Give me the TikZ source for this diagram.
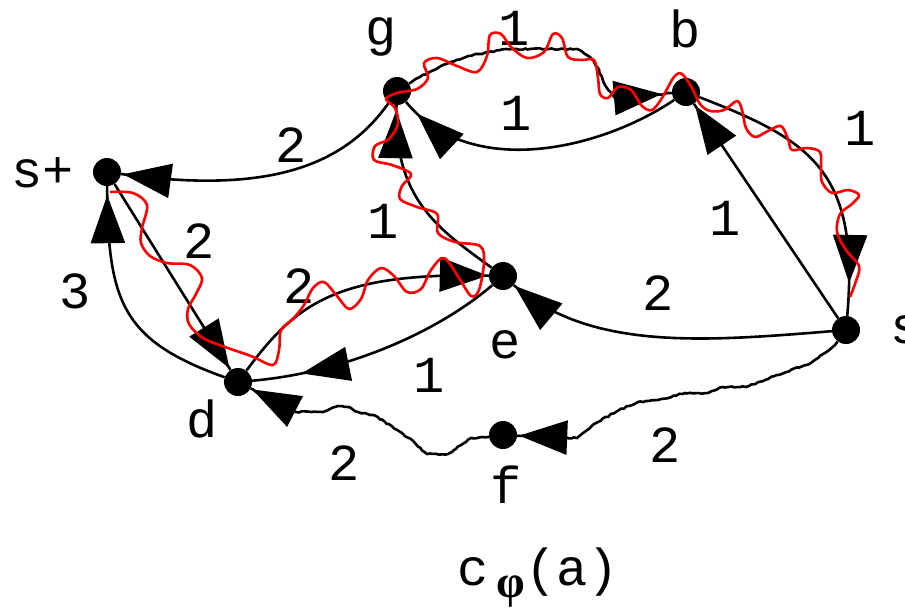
\documentclass[tikz,border=0pt]{standalone}
\usepackage{fontspec}
\setmainfont{Liberation Mono}
\newfontfamily\greekfont{Liberation Serif}
\usetikzlibrary{arrows.meta,decorations.pathmorphing,decorations.markings}
\tikzset{
  vertex/.style={circle, fill=black, minimum size=28pt, inner sep=0pt},
  edge/.style={line width=2.6pt},
  tiparrow/.style={postaction={decorate,decoration={markings,mark=at position #1 with {\arrow{Triangle[length=48pt,width=34pt]}}}}},
  jaggy/.style={preaction={draw, line width=2.6pt, decorate, decoration={random steps, segment length=3pt, amplitude=0.7pt}}},
  wavy/.style={draw=red, line width=2.6pt, line join=round}
}
\pgfmathsetseed{7}

\begin{document}
\begin{tikzpicture}[x=1pt, y=-1pt,
  lbl/.style={font=\fontsize{52}{56}\selectfont, inner sep=0pt, anchor=base}
]
\useasboundingbox (0,0) rectangle (905,608);
\node[vertex] (splus) at (107,172) {};
\node[vertex] (g) at (397,91) {};
\node[vertex] (b) at (686,92) {};
\node[vertex] (e) at (503,276) {};
\node[vertex] (d) at (238,382) {};
\node[vertex] (f) at (503,435) {};
\node[vertex] (sminus) at (846,330) {};
\node[lbl] (splusname) at (43,187) {s+};
\node[lbl] (gname) at (381,45) {g};
\node[lbl] (bname) at (685,47) {b};
\node[lbl] (ename) at (505,358) {e};
\node[lbl] (dname) at (202,437) {d};
\node[lbl] (fname) at (506,503) {f};
\node[lbl, anchor=base west] (sminusname) at (890,343) {s-};
% weights
\node[lbl] (wgb) at (514,45) {1};
\node[lbl] (wbg) at (516,130) {1};
\node[lbl] (wgs) at (291,162) {2};
\node[lbl] (wsd) at (199,258) {2};
\node[lbl] (wds) at (75,308) {3};
\node[lbl] (wde) at (299,303) {2};
\node[lbl] (wed) at (429,392) {1};
\node[lbl] (wfd) at (344,480) {2};
\node[lbl] (wsf) at (665,462) {2};
\node[lbl] (wse) at (658,310) {2};
\node[lbl] (wsb) at (725,235) {1};
\node[lbl] (wbs) at (860,145) {1};
\node[lbl] (weg) at (383,238) {1};
\node[lbl, anchor=base west] (caption) at (457,585) {c\hspace{8pt}\raisebox{-12pt}{\greekfont\bfseries\fontsize{46}{50}\selectfont φ}(a)};
% edges
\draw[edge, tiparrow=-2pt] (g) .. controls (345,165) and (270,195) .. (splus);
\draw[edge, tiparrow=-2pt] (splus) -- (d);
\draw[edge, tiparrow=-9pt] (d) .. controls (120,340) and (108,300) .. (splus);
\draw[edge, tiparrow=-1pt] (d) .. controls (295,305) and (335,272) .. (e);
\draw[edge, tiparrow=-50pt] (e) .. controls (440,330) and (350,372) .. (d);
\path[edge, jaggy, tiparrow=-2pt] (f) -- (488,437) -- (471,438) -- (448,454) -- (427,454) -- (415,443) -- (402,433) -- (385,422) -- (373,415) -- (358,412) -- (348,407) -- (338,406) -- (323,412) -- (296,412) -- (d);
\path[edge, jaggy, tiparrow=-2pt] (sminus) -- (835,345) -- (811,363) -- (777,375) -- (746,387) -- (723,387) -- (708,393) -- (685,393) -- (658,400) -- (638,402) -- (619,410) -- (596,423) -- (577,438) -- (f);
\draw[edge, tiparrow=-1pt] (sminus) .. controls (700,342) and (590,350) .. (e);
\draw[edge, tiparrow=-2pt] (sminus) -- (b);
\draw[edge, tiparrow=-33pt] (b) .. controls (810,140) and (860,170) .. (sminus);
\draw[edge, tiparrow=-16pt] (b) .. controls (600,150) and (470,180) .. (g);
\path[edge, jaggy, tiparrow=-10pt] (g) -- (420,77) -- (443,65) -- (473,55) -- (507,49) -- (577,49) -- (590,57) -- (598,68) -- (605,85) -- (615,98) -- (b);
\draw[edge, tiparrow=-5pt] (e) .. controls (440,230) and (393,200) .. (g);
% augmenting path s+ d e g b s-
\draw[wavy] plot[smooth, tension=0.55] coordinates {
  (110,192) (133,193) (147,205) (142,228) (141,243) (150,256) (167,263) (190,265)
  (202,278) (196,294) (188,309) (189,324) (203,338) (225,347) (251,356) (273,365)
  (279,350) (281,330) (293,319) (304,305) (313,288) (324,282) (337,296) (349,309)
  (361,299) (368,280) (381,268) (394,276) (407,292) (421,289) (431,270) (444,258)
  (459,278) (471,296) (479,290) (484,262) (480,246) (455,242) (438,233) (437,214)
  (417,207) (400,199) (402,186) (411,174) (392,165) (374,160) (375,146) (389,139)
  (398,124) (395,108) (386,99) (397,93) (417,89) (428,78) (424,63) (437,58)
  (457,66) (477,72) (487,56) (490,35) (501,34) (511,47) (527,58) (544,52)
  (553,34) (562,38) (568,57) (582,60) (594,60) (598,78) (600,94) (608,98)
  (618,87) (631,90) (642,106) (652,110) (662,98) (674,77) (682,74) (692,88)
  (700,104) (710,111) (724,110) (737,101) (742,110) (746,128) (755,137) (768,131)
  (781,126) (788,139) (792,150) (807,148) (820,152) (821,168) (822,182) (832,193)
  (848,190) (859,195) (852,204) (840,214) (837,232) (846,250) (859,266) (856,281) (850,297)};
\end{tikzpicture}
\end{document}
